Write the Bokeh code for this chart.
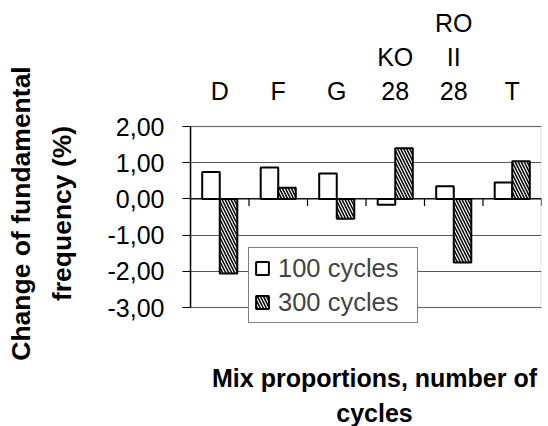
import math
from bokeh.plotting import figure
from bokeh.models import (FactorRange, Range1d, Label, Legend, LegendItem, ColumnDataSource,
                          BoxAnnotation, LinearAxis, FixedTicker)
from bokeh.transform import dodge
from bokeh.embed import file_html
from bokeh.resources import INLINE

# ---- data ----
categories = ["D", "F", "G", "KO 28", "RO II 28", "T"]
category_label_lines = [["D"], ["F"], ["G"], ["KO", "28"], ["RO", "II", "28"], ["T"]]
cycles_100 = [0.74, 0.87, 0.70, -0.16, 0.35, 0.45]
cycles_300 = [-2.06, 0.31, -0.55, 1.40, -1.76, 1.04]
series_names = ["100 cycles", "300 cycles"]
y_ticks = [2, 1, 0, -1, -2, -3]
y_tick_labels = ["2,00", "1,00", "0,00", "-1,00", "-2,00", "-3,00"]
y_title_lines = ["Change of fundamental", "frequency (%)"]
x_title_lines = ["Mix proportions, number of", "cycles"]

FONT = "Liberation Sans"
W, H = 548, 426
L, R = 190, 7
PT, PB = 126, 307          # pixel rows of the top / bottom of the value axis
FW = W - L - R

ymax, ymin = max(y_ticks), min(y_ticks)
uy = (ymax - ymin) / (PB - PT)   # data units per pixel
ux = len(categories) / FW

def dx(px):
    return (px - L) * ux

def dy(py):
    return ymax - (py - PT) * uy

src = ColumnDataSource(dict(cat=categories, v100=cycles_100, v300=cycles_300,
                            zero=[0] * len(categories)))

p = figure(width=W, height=H,
           x_range=FactorRange(factors=categories, range_padding=0),
           y_range=Range1d(dy(H), dy(0)),
           output_backend="svg", toolbar_location=None, x_axis_location=None,
           min_border_left=L, min_border_right=R, min_border_top=0, min_border_bottom=0)
p.background_fill_color = "white"
p.border_fill_color = "white"
p.outline_line_color = None

# plot-area border
p.add_layout(BoxAnnotation(left=0, right=len(categories), bottom=ymin, top=ymax,
                           fill_alpha=0, line_color="#999999", line_width=2, level="underlay"))

# grid
p.xgrid.visible = False
p.ygrid.ticker = y_ticks
p.ygrid.grid_line_color = "#555555"
p.ygrid.grid_line_width = 1
p.ygrid.bounds = (ymin, ymax)

# y axis
ya = p.yaxis[0]
ya.bounds = (ymin, ymax)
ya.ticker = y_ticks
ya.major_label_overrides = {t: s for t, s in zip(y_ticks, y_tick_labels)}
ya.major_label_text_font = FONT
ya.major_label_text_font_size = "25px"
ya.major_label_text_color = "black"
ya.major_tick_in = 0
ya.major_tick_out = 8
ya.minor_tick_line_color = None
ya.axis_line_color = "black"
ya.axis_line_width = 1.5
ya.major_tick_line_color = "black"
ya.major_label_standoff = 18

# y title, carried by a tick-less axis centred on the title's position
yc = dy(200)
ta = LinearAxis(bounds=(yc - 0.5, yc + 0.5), ticker=FixedTicker(ticks=[]),
                axis_line_color=None, major_tick_line_color=None, minor_tick_line_color=None,
                major_tick_out=0, major_tick_in=0, major_label_standoff=0,
                axis_label="\n".join(y_title_lines), axis_label_standoff=28,
                axis_label_text_font=FONT, axis_label_text_font_size="26.5px",
                axis_label_text_font_style="bold", axis_label_text_color="black",
                axis_label_text_line_height=1.34)
p.add_layout(ta, "left")

# category axis along zero with ticks between categories
p.segment(x0=dodge("cat", -0.5, range=p.x_range), x1=dodge("cat", 0.5, range=p.x_range),
          y0="zero", y1="zero", source=src, line_color="black", line_width=1.2)
tick_len = 7 * uy
p.segment(x0=dodge("cat", 0.5, range=p.x_range), x1=dodge("cat", 0.5, range=p.x_range),
          y0=0, y1=-tick_len, source=src, line_color="black", line_width=1.2)

# bars
bw = 0.3
r1 = p.vbar(x=dodge("cat", -bw / 2, range=p.x_range), top="v100", bottom=0, width=bw,
            source=src, fill_color="white", line_color="black", line_width=2)
r2 = p.vbar(x=dodge("cat", bw / 2, range=p.x_range), top="v300", bottom=0, width=bw,
            source=src, fill_color="white", line_color="black", line_width=2,
            hatch_pattern="left_diagonal_line", hatch_color="black",
            hatch_scale=6, hatch_weight=1.5)

# category labels on top
row_step = 34
for i, lines in enumerate(category_label_lines):
    n = len(lines)
    for j, txt in enumerate(lines):
        py = 90 - (n - 1 - j) * row_step
        p.add_layout(Label(x=i + 0.5, y=dy(py), text=txt, text_align="center",
                           text_baseline="middle", text_font=FONT,
                           text_font_size="25px", text_color="black"))

# x title
for k, txt in enumerate(x_title_lines):
    p.add_layout(Label(x=dx(374), y=dy(377 + 35 * k), text=txt, text_align="center",
                       text_baseline="middle", text_font=FONT, text_font_size="25px",
                       text_font_style="bold", text_color="black"))

legend = Legend(items=[LegendItem(label=series_names[0], renderers=[r1]),
                       LegendItem(label=series_names[1], renderers=[r2])],
                location=(58, H - 323), label_text_font=FONT, label_text_font_size="25.5px",
                glyph_width=16, glyph_height=16, label_height=30, label_width=134,
                spacing=4, padding=5, margin=0, label_standoff=8,
                border_line_color="black", border_line_width=1,
                background_fill_color="white", background_fill_alpha=1)
p.add_layout(legend)

open("out.html", "w").write(file_html(p, INLINE))
